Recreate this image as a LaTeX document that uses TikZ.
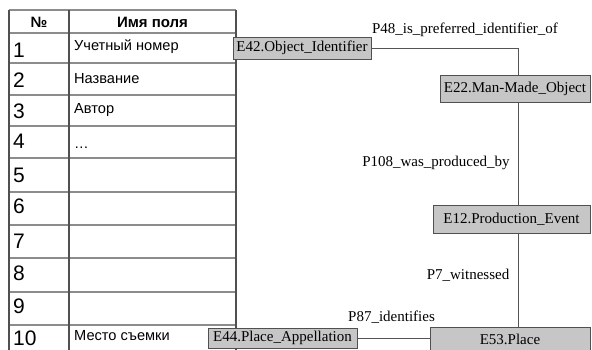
\documentclass[tikz,border=0pt]{standalone}
\usepackage{fontspec}
\setmainfont{Liberation Serif}
\newfontfamily\tablefont{Liberation Sans}
\definecolor{boxfill}{HTML}{C6C6C6}
\definecolor{boxline}{HTML}{505050}
\definecolor{gridh}{HTML}{8C8C8C}
\definecolor{gridv}{HTML}{505050}
\definecolor{wire}{HTML}{555555}
\tikzset{
  ebox/.style={rectangle, draw=boxline, fill=boxfill, line width=1pt,
    inner sep=0pt, font=\fontsize{15}{15}\selectfont},
  rel/.style={inner sep=0pt, font=\fontsize{15}{15}\selectfont},
  link/.style={draw=wire, line width=1pt},
  hline/.style={draw=gridh, line width=1.2pt},
  vline/.style={draw=gridv, line width=1.1pt},
  numcell/.style={anchor=base west, inner sep=0pt, font=\tablefont\fontsize{21}{21}\selectfont},
  txtcell/.style={anchor=base west, inner sep=0pt, font=\tablefont\fontsize{14.6}{14.6}\selectfont},
  headcell/.style={anchor=base, inner sep=0pt, font=\tablefont\bfseries\fontsize{15}{15}\selectfont}
}
\begin{document}
\begin{tikzpicture}[x=1pt,y=-1pt]
\useasboundingbox (0,0) rectangle (592,349);
\begin{scope}
\clip (0,0) rectangle (592,349);

% table grid
\foreach \yy in {10,33,63,95,126,158,192,225,258,292,325}
  \draw[hline] (9,\yy) -- (236,\yy);
\draw[vline] (9,10) -- (9,355);
\draw[vline] (69,10) -- (69,355);
\draw[vline] (236,10) -- (236,355);

% header
\node[headcell] (hnum) at (39,27) {№};
\node[headcell] (hname) at (152.5,27) {Имя поля};

% row numbers
\foreach \n/\b in {1/57,2/87,3/118,4/148,5/182,6/213,7/248,8/280,9/313,10/345}
  \node[numcell] (num\n) at (13,\b) {\n};

% field names
\node[txtcell] (f1) at (74,50) {Учетный номер};
\node[txtcell] (f2) at (74,83) {Название};
\node[txtcell] (f3) at (74,113) {Автор};
\node[txtcell] (f4) at (74,148) {\dots};
\node[txtcell] (f10) at (74,340) {Место съемки};

% entity boxes
\node[ebox, minimum width=138pt, minimum height=22pt] (e42) at (302,48) {E42.Object\_Identifier};
\node[ebox, minimum width=150pt, minimum height=27pt] (e22) at (515,88.5) {E22.Man-Made\_Object};
\node[ebox, minimum width=157pt, minimum height=28pt] (e12) at (511.5,219) {E12.Production\_Event};
\node[ebox, minimum width=160pt, minimum height=24pt] (e53) at (510,339) {E53.Place};
\node[ebox, minimum width=149pt, minimum height=20pt] (e44) at (282.5,338) {E44.Place\_Appellation};

\coordinate (spine) at (518,0);

% relations
\draw[link] (e42.east) -| (e22.north -| spine);
\draw[link] (e22.south -| spine) -- (e12.north -| spine);
\draw[link] (e12.south -| spine) -- (e53.north -| spine);
\draw[link] (e44.east) -- (e44.east -| e53.west);

% relation labels
\node[rel] (p48) at (465,30) {P48\_is\_preferred\_identifier\_of};
\node[rel] (p108) at (436,163) {P108\_was\_produced\_by};
\node[rel] (p7) at (468,275) {P7\_witnessed};
\node[rel] (p87) at (391.5,317) {P87\_identifies};
\end{scope}
\end{tikzpicture}
\end{document}
